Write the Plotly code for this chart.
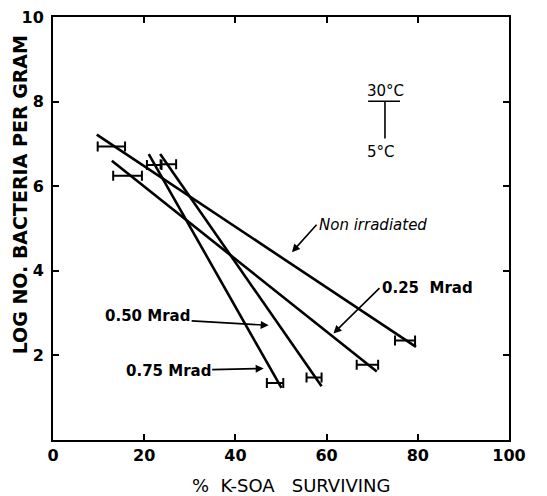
import plotly.graph_objects as go

# ---- data ----
series = ["Non irradiated", "0.25 Mrad", "0.50 Mrad", "0.75 Mrad"]
x_start = [9.6, 12.9, 23.5, 21.0]
y_start = [7.22, 6.60, 6.76, 6.76]
x_end = [79.6, 71.0, 58.9, 50.1]
y_end = [2.20, 1.62, 1.27, 1.23]

# small horizontal range bars drawn at each end of the lines
top_bar_lo = [9.8, 13.2, 23.6, 20.6]
top_bar_hi = [15.8, 19.5, 27.0, 23.8]
top_bar_y = [6.94, 6.25, 6.52, 6.50]
bot_bar_lo = [75.0, 66.6, 55.6, 46.9]
bot_bar_hi = [79.4, 71.3, 58.9, 50.5]
bot_bar_y = [2.35, 1.78, 1.48, 1.35]

x_ticks = [0, 20, 40, 60, 80, 100]
y_ticks = [2, 4, 6, 8, 10]

# label text, text anchor and arrow tip (data units)
label_text = ["<i>Non irradiated</i>", "<b>0.25  Mrad</b>", "<b>0.50 Mrad</b>", "<b>0.75 Mrad</b>"]
label_x = [57.8, 71.6, 11.0, 15.5]
label_y = [5.09, 3.59, 2.94, 1.62]
tip_x = [52.4, 61.5, 47.3, 46.2]
tip_y = [4.44, 2.52, 2.71, 1.69]

FONT = "DejaVu Sans"
fig = go.Figure()

for i, name in enumerate(series):
    fig.add_trace(go.Scatter(
        x=[x_start[i], x_end[i]], y=[y_start[i], y_end[i]],
        mode="lines", line=dict(color="black", width=2.6),
        name=name, showlegend=False, hoverinfo="skip"))
    for lo, hi, yy in ((top_bar_lo[i], top_bar_hi[i], top_bar_y[i]),
                       (bot_bar_lo[i], bot_bar_hi[i], bot_bar_y[i])):
        c = (lo + hi) / 2
        fig.add_trace(go.Scatter(
            x=[c], y=[yy], mode="markers",
            marker=dict(size=1, color="black"),
            error_x=dict(type="constant", value=(hi - lo) / 2,
                         color="black", thickness=2, width=5),
            showlegend=False, hoverinfo="skip"))

# annotations with arrows
for i in range(len(series)):
    fig.add_annotation(
        x=tip_x[i], y=tip_y[i], xref="x", yref="y",
        ax=label_x[i], ay=label_y[i], axref="x", ayref="y",
        text=label_text[i], xanchor="left", yanchor="middle",
        showarrow=True, arrowhead=2, arrowsize=1, arrowwidth=1.6,
        arrowcolor="black",
        font=dict(family=FONT, size=15, color="black"))

# temperature key
fig.add_shape(type="line", x0=69.1, x1=76.1, y0=8.01, y1=8.01,
              xref="x", yref="y", line=dict(color="black", width=1.6))
fig.add_shape(type="line", x0=72.8, x1=72.8, y0=8.01, y1=7.13,
              xref="x", yref="y", line=dict(color="black", width=1.6))
fig.add_annotation(x=73.0, y=8.26, xref="x", yref="y", text="30°C",
                   showarrow=False, font=dict(family=FONT, size=15, color="black"))
fig.add_annotation(x=72.0, y=6.82, xref="x", yref="y", text="5°C",
                   showarrow=False, font=dict(family=FONT, size=15, color="black"))

# axis titles as annotations
fig.add_annotation(xref="paper", yref="paper", x=0.524, y=-0.108,
                   xanchor="center", yanchor="middle",
                   text="%  K-SOA   SURVIVING", showarrow=False,
                   font=dict(family=FONT, size=18, color="black"))
fig.add_annotation(xref="paper", yref="paper", x=-0.073, y=0.58,
                   xanchor="center", yanchor="middle",
                   text="<b>LOG NO. BACTERIA PER GRAM</b>", textangle=-90,
                   showarrow=False,
                   font=dict(family=FONT, size=19, color="black"))

axis_common = dict(showline=True, linecolor="black", linewidth=2,
                   mirror="ticks", ticks="inside", ticklen=6, tickwidth=1.6,
                   tickcolor="black", showgrid=False, zeroline=False,
                   tickfont=dict(family=FONT, size=16, color="black"))

fig.update_xaxes(range=[0, 100], tickvals=x_ticks,
                 ticktext=["<b>%d</b>" % v for v in x_ticks], **axis_common)
fig.update_yaxes(range=[0, 10], tickvals=y_ticks,
                 ticktext=["<b>%d</b>" % v for v in y_ticks], ticklabelstandoff=4,
                 ticklabeloverflow="allow", **axis_common)

fig.update_layout(width=547, height=496,
                  margin=dict(l=53, r=38, t=8, b=56),
                  plot_bgcolor="white", paper_bgcolor="white",
                  showlegend=False)

fig.write_html("out.html")
